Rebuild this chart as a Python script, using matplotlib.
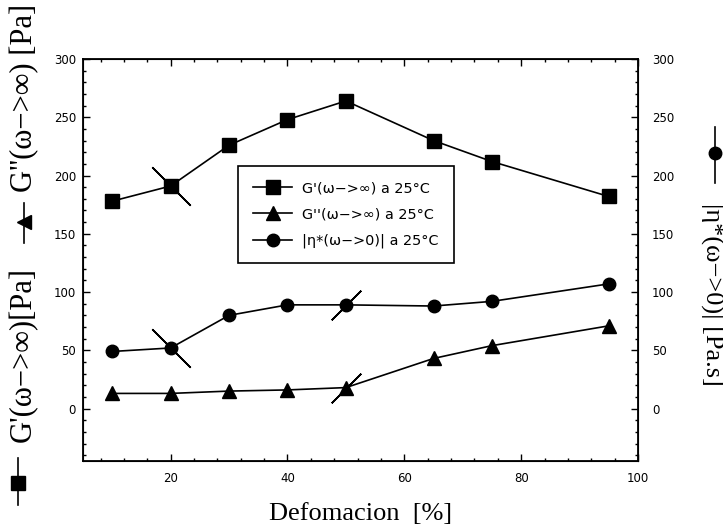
import matplotlib
matplotlib.use("Agg")
import matplotlib.pyplot as plt
from matplotlib.lines import Line2D
from matplotlib.ticker import MultipleLocator

# deformación (%) y módulos / viscosidad a 25 °C
strain = [10, 20, 30, 40, 50, 65, 75, 95]
g_storage = [178, 191, 226, 248, 264, 230, 212, 182]
g_loss = [13, 13, 15, 16, 18, 43, 54, 71]
eta = [49, 52, 80, 89, 89, 88, 92, 107]

W, H = 723, 531
fig = plt.figure(figsize=(W / 100, H / 100), dpi=100)
ax = fig.add_axes([83 / W, 1 - 461 / H, (638 - 83) / W, (461 - 59) / H])

lab_font = {"family": "DejaVu Sans", "size": 8.5}
serif = "Liberation Serif"

ax.plot(strain, g_storage, "k-", marker="s", ms=9.5, lw=1.2, label="G'(ω−>∞) a 25°C")
ax.plot(strain, g_loss, "k-", marker="^", ms=9.5, lw=1.2, label="G''(ω−>∞) a 25°C")
ax.plot(strain, eta, "k-", marker="o", ms=9, lw=1.2, label="|η*(ω−>0)| a 25°C")

# marcas de corte sobre algunos puntos
ax.plot(strain[1], g_storage[1], marker=(2, 2, 45), ms=39, mew=1.2, color="k")
ax.plot(strain[1], eta[1], marker=(2, 2, 45), ms=39, mew=1.2, color="k")
ax.plot(strain[4], eta[4], marker=(2, 2, -45), ms=30, mew=1.2, color="k")
ax.plot(strain[4], g_loss[4], marker=(2, 2, -45), ms=30, mew=1.2, color="k")

ax.set_xlim(5, 100)
ax.set_ylim(-45, 300)
ax.xaxis.set_major_locator(MultipleLocator(20))
ax.xaxis.set_minor_locator(MultipleLocator(4))
ax.yaxis.set_major_locator(MultipleLocator(50))
ax.yaxis.set_minor_locator(MultipleLocator(10))
ax.tick_params(which="both", direction="in", top=True, right=True, width=1)
ax.tick_params(which="major", length=5)
ax.tick_params(which="minor", length=2.5)
ax.tick_params(axis="x", pad=8)
ax.tick_params(axis="y", pad=5)
for lbl in ax.get_xticklabels() + ax.get_yticklabels():
    lbl.set_fontfamily(lab_font["family"])
    lbl.set_fontsize(lab_font["size"])
for s in ax.spines.values():
    s.set_linewidth(1.3)

ax2 = ax.twinx()
ax2.set_ylim(ax.get_ylim())
ax2.yaxis.set_major_locator(MultipleLocator(50))
ax2.yaxis.set_minor_locator(MultipleLocator(10))
ax2.tick_params(which="both", direction="in", width=1, pad=10)
ax2.tick_params(which="major", length=5)
ax2.tick_params(which="minor", length=2.5)
for lbl in ax2.get_yticklabels():
    lbl.set_fontfamily(lab_font["family"])
    lbl.set_fontsize(lab_font["size"])

leg = ax.legend(loc="upper left", bbox_to_anchor=(0.279, 0.734), borderaxespad=0,
                fancybox=False, edgecolor="k", framealpha=1, handlelength=2.7,
                handletextpad=0.7, labelspacing=0.85, borderpad=1.05,
                prop={"family": "DejaVu Sans", "size": 10.4})
leg.get_frame().set_linewidth(1.2)

ax.set_xlabel("Defomacion  [%]", family=serif, fontsize=19)
ax.xaxis.set_label_coords(0.5, -0.105)

# etiquetas de los ejes verticales con su símbolo
fig.text(23 / W, 1 - 355 / H, "G'(ω−>∞)[Pa]", rotation=90, ha="center", va="center",
         family=serif, fontsize=22)
fig.text(25 / W, 1 - 192 / H, "G''(ω−>∞) [Pa]", rotation=90, ha="center", va="bottom",
         family=serif, fontsize=22)
fig.text(712 / W, 1 - 294 / H, "|η*(ω−>0)| [Pa.s]", rotation=270, ha="center", va="center",
         family=serif, fontsize=19)

fig.add_artist(Line2D([18 / W, 18 / W], [1 - 458 / H, 1 - 505 / H], color="k", lw=1.2))
fig.add_artist(Line2D([18 / W], [1 - 483 / H], color="k", marker="s", ms=9.5))
fig.add_artist(Line2D([24 / W, 24 / W], [1 - 203 / H, 1 - 243 / H], color="k", lw=1.2))
fig.add_artist(Line2D([24 / W], [1 - 222 / H], color="k", marker="<", ms=9.5))
fig.add_artist(Line2D([715 / W, 715 / W], [1 - 127 / H, 1 - 183 / H], color="k", lw=1.2))
fig.add_artist(Line2D([715 / W], [1 - 153 / H], color="k", marker="o", ms=9))

fig.savefig("out.png", dpi=100)
